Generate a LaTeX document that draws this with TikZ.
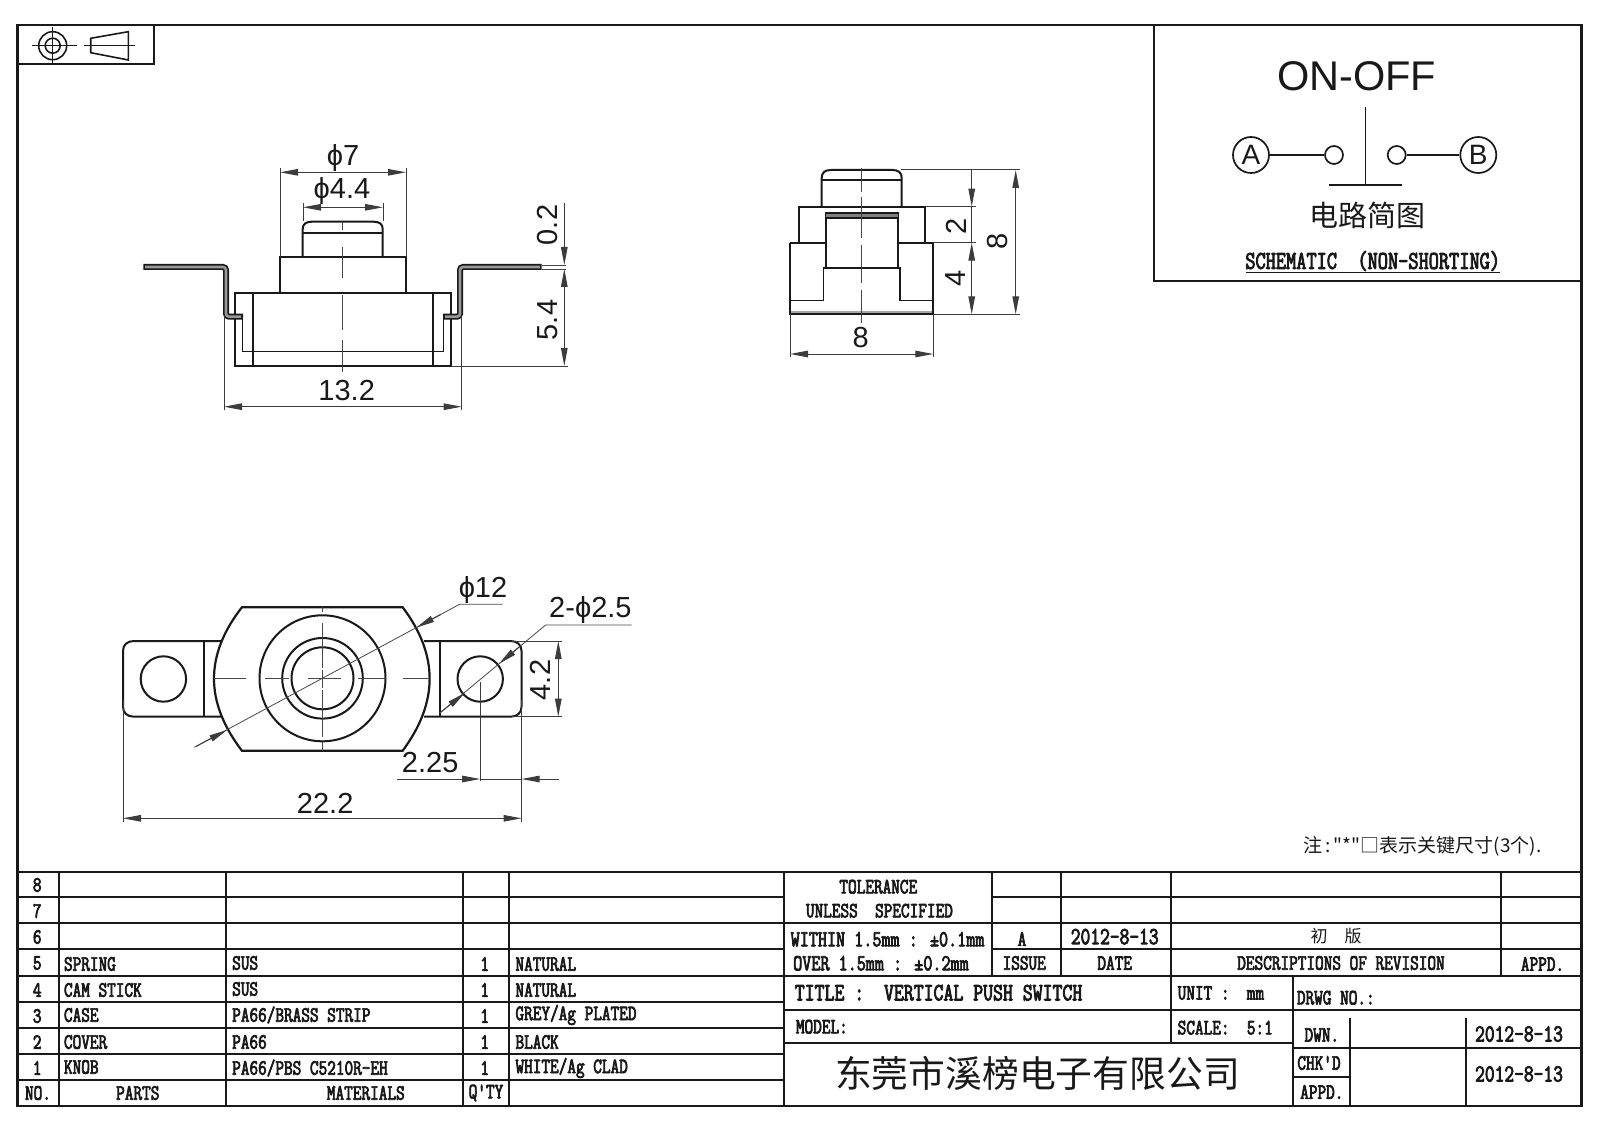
\documentclass[tikz,border=0pt]{standalone}
\usepackage{fontspec}
\usetikzlibrary{arrows.meta}
\setmainfont{Liberation Sans}
\newfontfamily\cadf[FakeStretch=0.77,FakeBold=3.2]{Latin Modern Mono}
\newfontfamily\cjkf{Noto Sans CJK SC}
\newcount\nn
\definecolor{ink}{gray}{0.1}
\tikzset{
  outl/.style={draw=ink,line width=2pt,line join=miter},
  dimn/.style={draw=ink!85,line width=1pt},
  thinl/.style={draw=ink!80,line width=0.8pt},
  tabl/.style={draw=ink,line width=1.8pt},
  arr/.style={-{Triangle[length=18pt,width=6.5pt]},draw=ink!85,line width=1pt},
  arrb/.style={{Triangle[length=18pt,width=6.5pt]}-{Triangle[length=18pt,width=6.5pt]},draw=ink!85,line width=1pt},
  dimtxt/.style={font=\fontsize{29}{31}\selectfont,text=ink,inner sep=0pt},
  cadtxt/.style={font=\cadf\fontsize{21.8}{23}\selectfont,text=ink,inner sep=0pt},
  cjktxt/.style={font=\cjkf,text=ink,inner sep=0pt},
}
\newcommand{\bigcad}{\fontsize{25}{27}\selectfont}
\newcommand{\tL}[3]{\global\advance\nn by 1 \node[cadtxt,anchor=west] (t\the\nn) at (#1,#2) {#3};}
\newcommand{\tC}[3]{\global\advance\nn by 1 \node[cadtxt] (t\the\nn) at (#1,#2) {#3};}
\newcommand{\dT}[3]{\global\advance\nn by 1 \node[dimtxt] (t\the\nn) at (#1,#2) {#3};}
\newcommand{\dR}[3]{\global\advance\nn by 1 \node[dimtxt,rotate=90] (t\the\nn) at (#1,#2) {#3};}
\begin{document}
\begin{tikzpicture}[x=1pt,y=-1pt]
\useasboundingbox (0,0) rectangle (1600,1131);
\fill[white] (0,0) rectangle (1600,1131);
% frame
\draw[draw=ink,line width=2.6pt] (17.5,25) rectangle (1581.5,1106);
% projection symbol box
\draw[tabl,line width=2pt] (17.5,25) rectangle (154,64.3);
\draw[outl,line width=1.6pt] (52.7,45.7) circle[radius=14pt] (52.7,45.7) circle[radius=7.5pt];
\draw[outl,line width=1.4pt] (31.7,45.7) -- (76.7,45.7) (52.7,27) -- (52.7,65);
\draw[outl,line width=1.6pt] (90.7,38.3) -- (128.3,31.7) -- (128.3,60) -- (90.7,52.7) -- cycle;
\draw[outl,line width=1.2pt] (84,45.7) -- (135,45.7);
% schematic box
\draw[draw=ink,line width=2pt] (1154.3,25) -- (1154.3,281) -- (1581.5,281);
\node[font=\fontsize{41.5}{44}\selectfont,text=ink,inner sep=0pt] (onoff) at (1356.7,76.7) {ON-OFF};
\node[circle,draw=ink,line width=1.7pt,minimum size=36pt,inner sep=0pt,font=\fontsize{28}{30}\selectfont,text=ink] (A) at (1251,155) {A};
\node[circle,draw=ink,line width=1.7pt,minimum size=36pt,inner sep=0pt,font=\fontsize{28}{30}\selectfont,text=ink] (B) at (1478.3,155) {B};
\node[circle,draw=ink,line width=1.7pt,minimum size=18pt,inner sep=0pt] (a1) at (1334,155) {};
\node[circle,draw=ink,line width=1.7pt,minimum size=18pt,inner sep=0pt] (b1) at (1396.7,155) {};
\draw[draw=ink,line width=1.5pt] (A) -- (a1);
\draw[draw=ink,line width=1.5pt] (b1) -- (B);
\draw[draw=ink,line width=1.5pt] (1365.3,107.3) -- (1365.3,185) (1329,185) -- (1401.7,185);
\node[cjktxt,font=\cjkf\fontsize{29}{31}\selectfont] (sch1) at (1367,215.7) {电路简图};
\node[cadtxt,font=\cadf\fontsize{25.7}{27}\selectfont] (sch2) at (1372.7,261) {SCHEMATIC\ \ (NON-SHORTING)};
\draw[draw=ink,line width=1.3pt] (1246,272.5) -- (1500,272.5);
%%%%%% FRONT VIEW
\draw[outl] (302.7,257.3) -- (302.7,229) .. controls (302.7,224) and (306,221.7) .. (312,221.7) -- (373.4,221.7) .. controls (379.4,221.7) and (382.7,224) .. (382.7,229) -- (382.7,257.3);
\draw[outl] (302.7,232.7) -- (382.7,232.7);
\draw[outl] (280,293.3) -- (280,257.3) -- (406,257.3) -- (406,293.3);
\draw[outl] (235,293.3) rectangle (451,366);
\draw[outl] (252.7,293.3) -- (252.7,366) (432.7,293.3) -- (432.7,366);
\draw[outl,line width=1.5pt] (242.7,316) -- (242.7,351.7) -- (443.3,351.7) -- (443.3,316);
\draw[draw=ink,line width=6pt,rounded corners=3pt] (143.3,267) -- (226,267) -- (226,316.7) -- (243,316.7);
\draw[draw=ink,line width=6pt,rounded corners=3pt] (541.7,267) -- (460,267) -- (460,316.7) -- (443,316.7);
\draw[draw=ink!45,line width=2.6pt,rounded corners=3pt] (145,267) -- (226,267) -- (226,316.7) -- (241,316.7);
\draw[draw=ink!45,line width=2.6pt,rounded corners=3pt] (540,267) -- (460,267) -- (460,316.7) -- (445,316.7);
\draw[thinl] (342.7,221.7) -- (342.7,230) (342.7,246.7) -- (342.7,278) (342.7,295) -- (342.7,330) (342.7,340) -- (342.7,372);
% dims front
\draw[dimn] (280,168) -- (280,257) (406,168) -- (406,257);
\draw[arrb] (280,172.3) -- (406,172.3);
\draw[dimn] (303,203) -- (303,221) (383,203) -- (383,221);
\draw[arrb] (303,207.3) -- (383,207.3);
\dT{343}{158}{ϕ7}
\dT{342}{191}{ϕ4.4}
\draw[thinl] (541.7,265) -- (566,265) (541.7,269) -- (566,269);
\draw[arr] (564.3,203) -- (564.3,265);
\draw[arr] (564.3,300) -- (564.3,269);
\draw[arr] (564.3,330) -- (564.3,366);
\draw[dimn] (564.3,295) -- (564.3,335);
\draw[dimn] (451,366) -- (568,366);
\dR{548}{225}{0.2}
\dR{548}{320}{5.4}
\draw[dimn] (224,316) -- (224,410) (461.7,316) -- (461.7,410);
\draw[arrb] (224,406.7) -- (461.7,406.7);
\dT{346.7}{390.7}{13.2}
%%%%%% SIDE VIEW
\draw[outl] (821.7,206.7) -- (821.7,178) .. controls (821.7,172.5) and (825,170) .. (831,170) -- (892.4,170) .. controls (898.4,170) and (901.7,172.5) .. (901.7,178) -- (901.7,206.7);
\draw[outl] (821.7,180) -- (901.7,180);
\draw[outl] (799,242.7) -- (799,206.7) -- (925,206.7) -- (925,242.7);
\draw[outl] (790,242.7) -- (826,242.7) (897.7,242.7) -- (933.3,242.7);
\draw[outl] (790,242.7) -- (790,314.3) -- (933.3,314.3) -- (933.3,242.7);
\draw[draw=gray!70,line width=1.2pt] (791,312) -- (932.3,312);
\draw[outl] (826,268.3) -- (826,213.3) -- (897.7,213.3) -- (897.7,268.3);
\fill[gray] (826,213.3) rectangle (897.7,218.3);
\draw[outl,line width=1.6pt] (826,213.3) -- (897.7,213.3) (826,218.3) -- (897.7,218.3);
\draw[outl,line width=1.6pt] (790,300.7) -- (823.3,300.7) -- (823.3,268.3) -- (900,268.3) -- (900,300.7) -- (933.3,300.7);
\draw[thinl] (861.7,168) -- (861.7,192) (861.7,197) -- (861.7,238) (861.7,245) -- (861.7,283) (861.7,290) -- (861.7,323);
\draw[dimn] (901,170) -- (1020,170) (925,206.7) -- (976,206.7) (933,242.7) -- (976,242.7) (933,314.3) -- (1020,314.3);
\draw[arr] (971.7,170) -- (971.7,206.7);
\draw[dimn] (971.7,206.7) -- (971.7,242.7);
\draw[arrb] (971.7,242.7) -- (971.7,314.3);
\draw[arrb] (1015.7,170) -- (1015.7,314.3);
\dR{956}{226}{2}
\dR{956}{278}{4}
\dR{998}{241.7}{8}
\draw[dimn] (790,314) -- (790,357) (933.3,314) -- (933.3,357);
\draw[arrb] (790,354) -- (933.3,354);
\dT{860.7}{338}{8}
%%%%%% BOTTOM VIEW
\draw[outl,line width=2.2pt] (241.9,607.3) -- (402.7,607.3) .. controls (438.6,655) and (438.6,702) .. (402.7,750.7) -- (241.9,750.7) .. controls (204.7,702) and (204.7,655) .. (241.9,607.3) -- cycle;
\draw[outl] (322.5,678.3) circle[radius=63pt];
\draw[outl] (322.5,678.3) circle[radius=40.3pt];
\draw[outl] (322.5,678.3) circle[radius=31pt];
% tabs
\draw[outl] (220.9,641) -- (134,641) .. controls (127,641) and (123,645) .. (123,651) -- (123,706.7) .. controls (123,712.7) and (127,716.7) .. (134,716.7) -- (220.9,716.7);
\draw[outl] (203.7,641) -- (203.7,716.7);
\draw[outl] (424,641) -- (510.5,641) .. controls (517.5,641) and (521.5,645) .. (521.5,651) -- (521.5,706.7) .. controls (521.5,712.7) and (517.5,716.7) .. (510.5,716.7) -- (424,716.7);
\draw[outl] (439.9,641) -- (439.9,716.7);
\draw[outl] (163.4,679) circle[radius=22.7pt];
\draw[outl] (480.2,679) circle[radius=22.7pt];
\draw[thinl] (214,678.3) -- (246,678.3) (265,678.3) -- (289,678.3) (308,678.3) -- (341.4,678.3) (358,678.3) -- (385.5,678.3) (402.7,678.3) -- (428.5,678.3);
\draw[thinl] (322.5,607) -- (322.5,612) (322.5,623) -- (322.5,668) (322.5,670) -- (322.5,688) (322.5,690) -- (322.5,737) (322.5,742) -- (322.5,751);
% phi12
\draw[thinl] (194.4,747.3) -- (459.5,604.3) -- (502.6,604.3);
\draw[arr] (196,746.4) -- (227,730);
\draw[arr] (441,614.3) -- (416.5,627.5);
\dT{483}{590}{ϕ12}
% 2-phi2.5
\draw[thinl] (439.9,713) -- (545.6,625) -- (631.7,625);
\draw[arr] (441,712) -- (464.7,693);
\draw[arr] (521,645.5) -- (499.1,663.7);
\dT{590.4}{610}{2-ϕ2.5}
% 4.2
\draw[dimn] (512,641) -- (562,641) (512,716.7) -- (562,716.7);
\draw[arrb] (558.3,641) -- (558.3,716.7);
\dR{540.4}{680}{4.2}
% 2.25
\draw[dimn] (480.2,682) -- (480.2,781) (521.5,700) -- (521.5,822) (123,700) -- (123,822);
\draw[dimn] (396.5,779) -- (462,779) (480.2,779) -- (521.5,779) (535,779) -- (558.7,779);
\draw[arr] (462,779) -- (480.2,779);
\draw[arr] (540,779) -- (521.5,779);
\dT{430.2}{763}{2.25}
\draw[arrb] (123,818.3) -- (521.5,818.3);
\dT{325.2}{803}{22.2}
% note
\node[cjktxt,font=\cjkf\fontsize{19}{21}\selectfont,anchor=west] (note) at (1303,846.7) {注\,:\,"*"□表示关键尺寸(3个).};
%%%%%% LEFT TABLE
\draw[tabl] (17.5,871.7) -- (1581.5,871.7);
\draw[tabl] (17.5,897.3) -- (784.2,897.3) (17.5,923.3) -- (1581.5,923.3) (17.5,949.3) -- (784.2,949.3) (17.5,975.7) -- (1581.5,975.7) (17.5,1001.7) -- (784.2,1001.7) (17.5,1027.7) -- (784.2,1027.7) (17.5,1054) -- (784.2,1054) (17.5,1080) -- (784.2,1080);
\draw[tabl] (58.7,871.7) -- (58.7,1106) (226,871.7) -- (226,1106) (463.3,871.7) -- (463.3,1106) (509.2,871.7) -- (509.2,1106) (784.2,871.7) -- (784.2,1106);
\tC{37.2}{885}{8}\tC{37.2}{911}{7}\tC{37.2}{937}{6}\tC{37.2}{963}{5}\tC{37.2}{990}{4}\tC{37.2}{1016}{3}\tC{37.2}{1042}{2}\tC{37.2}{1068}{1}\tC{38}{1093}{NO.}
\tL{63.8}{964}{SPRING}\tL{63.8}{990}{CAM STICK}\tL{63.8}{1015}{CASE}\tL{63.8}{1042}{COVER}\tL{63.8}{1067}{KNOB}
\tC{137.8}{1093}{PARTS}
\tL{232}{963}{SUS}\tL{232}{989}{SUS}\tL{232}{1015}{PA66/BRASS STRIP}\tL{232}{1042}{PA66}\tL{232}{1068}{PA66/PBS C5210R-EH}
\tC{365.8}{1093}{MATERIALS}
\tC{484.7}{964}{1}\tC{484.7}{990}{1}\tC{484.7}{1016}{1}\tC{484.7}{1042}{1}\tC{484.7}{1068}{1}\tC{486}{1093}{Q'TY}
\tL{515.3}{964}{NATURAL}\tL{515.3}{990}{NATURAL}\tL{515.3}{1015}{GREY/Ag PLATED}\tL{515.3}{1042}{BLACK}\tL{515.3}{1068}{WHITE/Ag CLAD}
%%%%%% RIGHT BLOCK
\draw[tabl] (991.8,897.3) -- (1581.5,897.3) (991.8,949.3) -- (1581.5,949.3);
\draw[tabl] (991.8,871.7) -- (991.8,975.7) (1060.9,871.7) -- (1060.9,975.7) (1170.7,871.7) -- (1170.7,1042.7) (1500.7,871.7) -- (1500.7,975.7);
\draw[tabl] (784.2,1010) -- (1581.5,1010) (784.2,1042.7) -- (1292.6,1042.7);
\draw[tabl] (1292.6,975.7) -- (1292.6,1106) (1350,1018) -- (1350,1106) (1466,1018) -- (1466,1106);
\draw[tabl] (1292.6,1048.3) -- (1581.5,1048.3) (1292.6,1077.3) -- (1350,1077.3);
\tC{878.3}{886.7}{TOLERANCE}
\tC{879.4}{910.7}{UNLESS\ \ SPECIFIED}
\tL{790.5}{939.3}{\fontsize{22.9}{24}\selectfont WITHIN 1.5mm : ±0.1mm}
\tL{793}{963.3}{\fontsize{22.9}{24}\selectfont OVER 1.5mm : ±0.2mm}
\tC{1022}{939}{A}
\tC{1114.7}{936.7}{\fontsize{24.6}{26}\selectfont 2012-8-13}
\node[cjktxt,font=\cjkf\fontsize{17}{19}\selectfont] (rev) at (1336,936) {初\quad 版};
\tC{1024.2}{963}{ISSUE}\tC{1114.7}{963}{DATE}\tC{1341}{963}{DESCRIPTIONS OF REVISION}\tC{1542.5}{964}{APPD.}
\tL{794.6}{992.7}{\bigcad TITLE :\ \ VERTICAL PUSH SWITCH}
\tL{1177.5}{993}{UNIT :\ \ mm}
\tL{1296.7}{997.7}{DRWG NO.:}
\tL{795.7}{1026.7}{MODEL:}
\tL{1177.5}{1027.7}{SCALE:\ \ 5:1}
\tC{1321.8}{1035}{DWN.}\tC{1319}{1063}{CHK'D}\tC{1321.8}{1092}{APPD.}
\tC{1519}{1034}{\fontsize{24.6}{26}\selectfont 2012-8-13}\tC{1519}{1074}{\fontsize{24.6}{26}\selectfont 2012-8-13}
\node[cjktxt,font=\cjkf\fontsize{36.8}{38}\selectfont] (co) at (1037.5,1073.3) {东莞市溪榜电子有限公司};
\end{tikzpicture}
\end{document}
